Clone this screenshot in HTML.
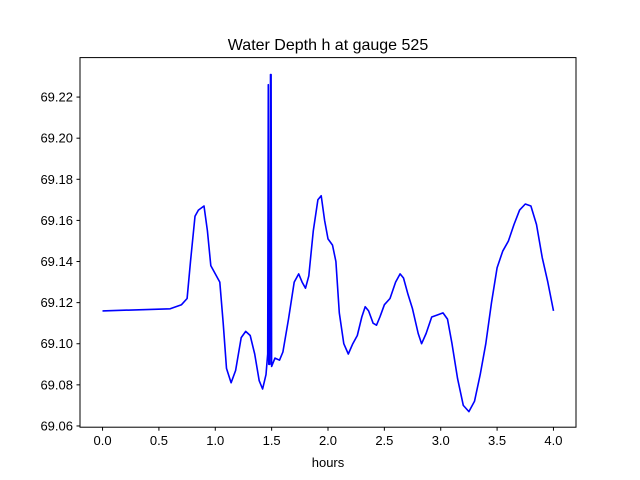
<!DOCTYPE html>
<html><head><meta charset="utf-8"><style>
body{margin:0;background:#fff}
svg{display:block;font-family:"Liberation Sans","DejaVu Sans",sans-serif}
</style></head><body>
<svg id="chart" width="640" height="480">
<rect width="640" height="480" fill="#fff"/>
<text x="328" y="50" text-anchor="middle" font-size="16">Water Depth h at gauge 525</text>
<g id="xt"></g>
<g id="yt"></g>
<polyline id="line" fill="none" stroke="#0000ff" stroke-width="1.6" stroke-linejoin="round"/>
<rect x="80" y="57.6" width="496" height="369.6" fill="none" stroke="#000" stroke-width="1"/>
<text x="328" y="467" text-anchor="middle" font-size="13">hours</text>
</svg>
<script>
const hours=[0,0.6,0.7,0.75,0.78,0.82,0.85,0.9,0.93,0.96,1.0,1.04,1.07,1.1,1.14,1.18,1.23,1.27,1.31,1.35,1.39,1.42,1.45,1.465,1.47,1.475,1.485,1.49,1.495,1.50,1.53,1.57,1.6,1.65,1.7,1.74,1.77,1.8,1.83,1.87,1.91,1.94,1.97,2.0,2.04,2.07,2.1,2.14,2.18,2.22,2.26,2.3,2.33,2.36,2.4,2.43,2.46,2.5,2.55,2.6,2.64,2.67,2.71,2.75,2.8,2.83,2.87,2.92,2.97,3.02,3.06,3.1,3.15,3.2,3.25,3.3,3.35,3.4,3.45,3.5,3.55,3.6,3.65,3.7,3.75,3.8,3.85,3.9,3.95,4.0];
const depth=[69.116,69.117,69.119,69.122,69.14,69.162,69.165,69.167,69.155,69.138,69.134,69.130,69.11,69.088,69.081,69.087,69.103,69.106,69.104,69.095,69.082,69.078,69.085,69.095,69.226,69.09,69.09,69.231,69.231,69.089,69.093,69.092,69.096,69.112,69.13,69.134,69.13,69.127,69.133,69.155,69.17,69.172,69.16,69.151,69.148,69.14,69.115,69.10,69.095,69.1,69.104,69.113,69.118,69.116,69.110,69.109,69.113,69.119,69.122,69.13,69.134,69.132,69.124,69.117,69.105,69.1,69.105,69.113,69.114,69.115,69.112,69.1,69.083,69.07,69.067,69.072,69.085,69.1,69.12,69.137,69.145,69.15,69.158,69.165,69.168,69.167,69.158,69.142,69.13,69.116];
const xTicks=[0,0.5,1.0,1.5,2.0,2.5,3.0,3.5,4.0];
const xLabels=["0.0","0.5","1.0","1.5","2.0","2.5","3.0","3.5","4.0"];
const yTicks=[69.06,69.08,69.10,69.12,69.14,69.16,69.18,69.20,69.22];
const L=80,R=576,T=57.6,B=427.2,x0=-0.2,x1=4.2,y0=69.0594,y1=69.2392;
const sx=v=>L+(v-x0)/(x1-x0)*(R-L), sy=v=>B-(v-y0)/(y1-y0)*(B-T);
const NS="http://www.w3.org/2000/svg";
const xt=document.getElementById('xt'),yt=document.getElementById('yt');
xTicks.forEach((t,i)=>{
 const l=document.createElementNS(NS,'line');
 l.setAttribute('x1',sx(t));l.setAttribute('x2',sx(t));l.setAttribute('y1',B);l.setAttribute('y2',B+3.5);l.setAttribute('stroke','#000');
 
 
 xt.appendChild(l);
 const s=document.createElementNS(NS,'text');
 s.setAttribute('x',sx(t));s.setAttribute('y',B+18);s.setAttribute('text-anchor','middle');s.setAttribute('font-size','13');s.textContent=xLabels[i];
 
 
 xt.appendChild(s);
});
yTicks.forEach(t=>{
 const l=document.createElementNS(NS,'line');
 l.setAttribute('x1',L-3.5);l.setAttribute('x2',L);l.setAttribute('y1',sy(t));l.setAttribute('y2',sy(t));l.setAttribute('stroke','#000');
 
 
 yt.appendChild(l);
 const s=document.createElementNS(NS,'text');
 s.setAttribute('x',L-7);s.setAttribute('y',sy(t)+4.5);s.setAttribute('text-anchor','end');s.setAttribute('font-size','13');s.textContent=t.toFixed(2);
 
 
 yt.appendChild(s);
});
document.getElementById('line').setAttribute('points',hours.map((h,i)=>sx(h).toFixed(1)+','+sy(depth[i]).toFixed(1)).join(' '));
</script>
</body></html>
